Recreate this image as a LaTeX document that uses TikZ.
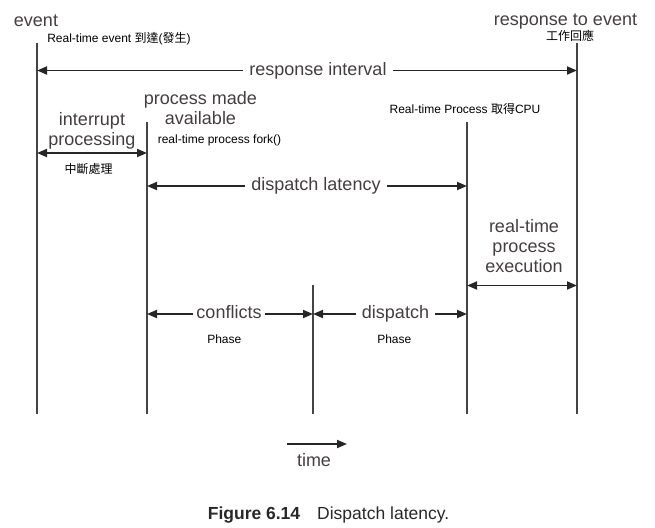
\documentclass[tikz,border=0pt]{standalone}
\usepackage{fontspec}
\setmainfont{Liberation Sans}
\newfontfamily\cjk{Noto Sans CJK TC}
\usepackage{tikz}
\usetikzlibrary{arrows.meta, positioning, calc}
\definecolor{lblgray}{RGB}{70,62,62}
\definecolor{linegray}{RGB}{68,68,68}
\definecolor{capgray}{RGB}{40,40,40}
\tikzset{
	biglbl/.style={text=lblgray, font=\fontsize{18}{20}\selectfont, inner sep=0pt},
	armlbl/.style={biglbl, fill=white, inner xsep=6pt, text height=13.1pt, text depth=3.8pt},
	note/.style={font=\fontsize{12}{14}\selectfont, inner sep=0pt},
	timeline/.style={draw=linegray, line width=2.4pt},
	span/.style={draw=black!85, line width=1.8pt},
}

\begin{document}
\begin{tikzpicture}[x=1pt, y=-1pt, >={Triangle[length=10pt,width=8pt]}]
	\useasboundingbox (0,0) rectangle (655,527);
	\coordinate (evtop) at (37,43);
	\coordinate (evbot) at (37,414);
	\coordinate (avtop) at (147,122);
	\coordinate (avbot) at (147,414);
	\coordinate (cftop) at (313,285);
	\coordinate (cfbot) at (313,414);
	\coordinate (cputop) at (467,122);
	\coordinate (cpubot) at (467,414);
	\coordinate (rstop) at (577,43);
	\coordinate (rsbot) at (577,414);
	\draw[timeline] (evtop) -- (evbot);
	\draw[timeline] (avtop) -- (avbot);
	\draw[timeline] (cftop) -- (cfbot);
	\draw[timeline] (cputop) -- (cpubot);
	\draw[timeline] (rstop) -- (rsbot);
	
	\node[biglbl, anchor=base] (event) at (36,26.5) {event};
	\node[note, anchor=base] (eventnote) at (119,42) {Real-time event {\cjk 到達}({\cjk 發生})};
	\node[biglbl, anchor=base] (response) at (565.5,26) {response to event};
	\node[note, anchor=base] (responsenote) at (570,40.5) {\cjk 工作回應};
	
	\node[armlbl] (interval) at (318,70.5) {response interval};
	\draw[span,->] (interval.west) -- (interval.west -| evtop);
	\draw[span,->] (interval.east) -- (interval.east -| rstop);
	
	\node[biglbl, align=center, anchor=base] (interrupt) at (92,145.7) {interrupt\\processing};
	\coordinate (ipleft) at (37,153);
	\coordinate (ipright) at (147,153);
	\draw[span,<->] (ipleft) -- (ipright);
	\node[note, anchor=base] (interruptnote) at (88.5,173.5) {\cjk 中斷處理};
	
	\node[biglbl, align=center, anchor=base] (available) at (200.5,124) {process made\\available};
	\node[note, anchor=base] (forknote) at (219.5,143) {real-time process fork()};
	
	\node[armlbl] (latency) at (316,186) {dispatch latency};
	\draw[span,->] (latency.west) -- (latency.west -| avtop);
	\draw[span,->] (latency.east) -- (latency.east -| cputop);
	\node[note, anchor=base] (cpunote) at (465,113) {Real-time Process {\cjk 取得}CPU};
	
	\node[biglbl, align=center, anchor=base] (execution) at (524,272.7) {real-time\\process\\execution};
	\coordinate (exleft) at (467,285.5);
	\coordinate (exright) at (577,285.5);
	\draw[span,<->] (exleft) -- (exright);
	
	\node[armlbl, inner xsep=3pt] (conflicts) at (229,314) {conflicts};
	\draw[span,->] (conflicts.west) -- (conflicts.west -| avtop);
	\draw[span,->] (conflicts.east) -- (conflicts.east -| cftop);
	\node[note, anchor=base] (phaseA) at (224.3,343) {Phase};
	\node[armlbl] (dispatch) at (395.5,314) {dispatch};
	\draw[span,->] (dispatch.west) -- (dispatch.west -| cftop);
	\draw[span,->] (dispatch.east) -- (dispatch.east -| cputop);
	\node[note, anchor=base] (phaseB) at (394.3,343) {Phase};
	
	\coordinate (tstart) at (287,444);
	\coordinate (tend) at (347,444);
	\draw[span,->] (tstart) -- (tend);
	\node[biglbl, anchor=base] (time) at (314,466.5) {time};
	
	\node[anchor=base, inner sep=0pt, text=capgray, font=\fontsize{17.5}{20}\selectfont] (caption) at (328.5,519.3) {\textbf{Figure 6.14}\hspace{17pt}Dispatch latency.};
\end{tikzpicture}
\end{document}
